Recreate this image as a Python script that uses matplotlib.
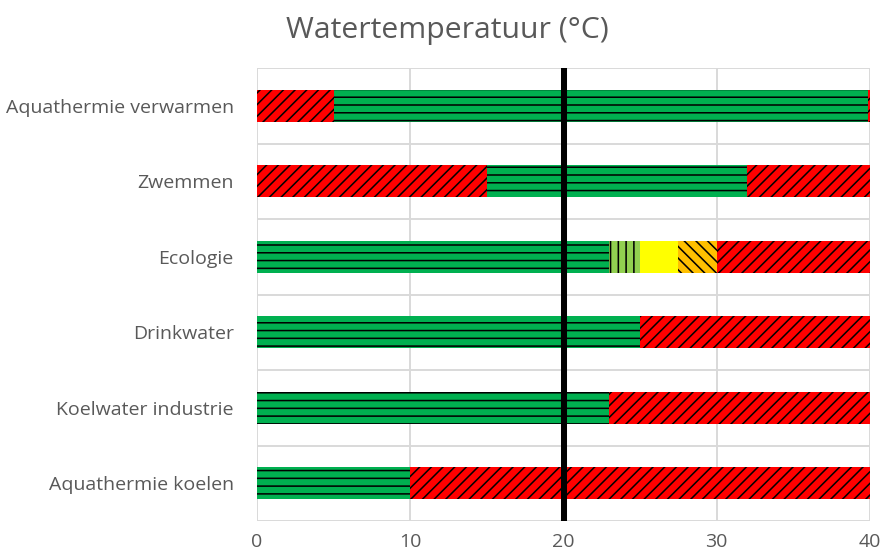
import matplotlib.pyplot as plt

plt.rcParams['font.family'] = ['Open Sans', 'DejaVu Sans']
plt.rcParams['hatch.linewidth'] = 0.8

categories = ['Aquathermie verwarmen', 'Zwemmen', 'Ecologie', 'Drinkwater',
              'Koelwater industrie', 'Aquathermie koelen']
# segment widths (°C) per category, from left to right
widths = [
    [5, 34.9, 0.1],
    [15, 17, 8],
    [23, 2, 2.5, 2.5, 10],
    [25, 15],
    [23, 17],
    [10, 30],
]
kinds = [
    ['rood', 'groen', 'rood'],
    ['rood', 'groen', 'rood'],
    ['groen', 'lichtgroen', 'geel', 'oranje', 'rood'],
    ['groen', 'rood'],
    ['groen', 'rood'],
    ['groen', 'rood'],
]
reference_temp = 20
xticks = [0, 10, 20, 30, 40]

styles = {
    'groen': ('#00B050', '---'),
    'lichtgroen': ('#92D050', '|||'),
    'geel': ('#FFFF00', ''),
    'oranje': ('#FFC000', '\\\\\\\\'),
    'rood': ('#FF0000', '////'),
}

fig = plt.figure(figsize=(882 / 140, 557 / 140), dpi=140)
ax = fig.add_axes([257 / 882, 1 - 521 / 557, 613 / 882, 453 / 557])

for i, (ws, ks) in enumerate(zip(widths, kinds)):
    left = 0
    for w, k in zip(ws, ks):
        color, hatch = styles[k]
        ax.barh(i, w, left=left, height=0.42, color=color, hatch=hatch,
                edgecolor='black', linewidth=0, zorder=2)
        left += w

ax.axvline(reference_temp, color='black', linewidth=3.1, zorder=3)

ax.set_xlim(0, 40)
ax.set_ylim(len(categories) - 0.5, -0.5)
ax.set_xticks(xticks)
ax.set_yticks(range(len(categories)))
ax.set_yticklabels(categories)

# gridlines: vertical at ticks, horizontal between categories
for x in xticks:
    ax.axvline(x, color='#d9d9d9', linewidth=1.0, zorder=1)
for b in range(len(categories) + 1):
    ax.axhline(b - 0.5, color='#d9d9d9', linewidth=1.0, zorder=1)
for s in ax.spines.values():
    s.set_visible(False)

ax.tick_params(length=0, labelsize=10, colors='#595959')
ax.tick_params(axis='x', pad=6)
ax.tick_params(axis='y', pad=12)

fig.text(0.507, 0.945, 'Watertemperatuur (°C)', ha='center', va='center',
         fontsize=15.5, color='#595959')

fig.savefig('out.png', dpi=140)
